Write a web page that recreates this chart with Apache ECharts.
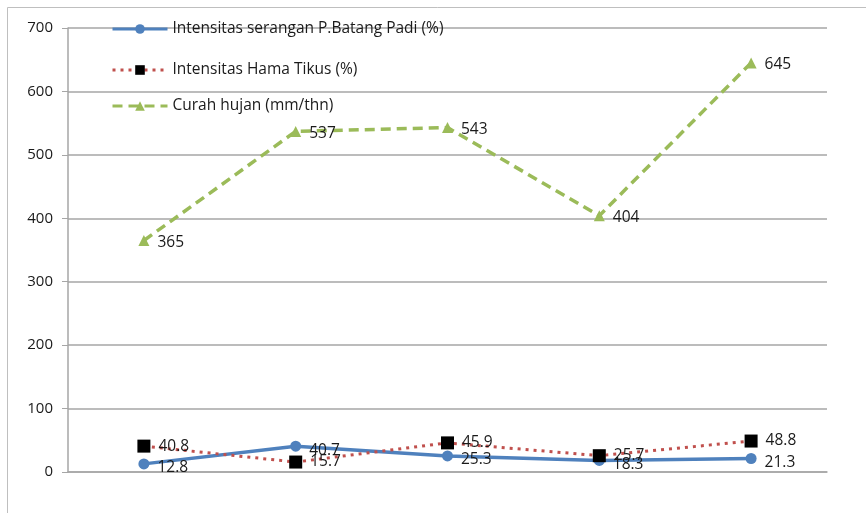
<!DOCTYPE html>
<html>
<head>
<meta charset="utf-8">
<script src="https://cdn.jsdelivr.net/npm/echarts@6/dist/echarts.min.js"></script>
<style>
  html, body { margin: 0; padding: 0; background: #fff; }
  #chart { width: 866px; height: 513px; }
</style>
</head>
<body>
<div id="chart"></div>
<script>
// kategori (tanpa label di sumbu x)
const categories = ['1', '2', '3', '4', '5']
const batangPadi = [12.8, 40.7, 25.3, 18.3, 21.3]
const hamaTikus = [40.8, 15.7, 45.9, 25.7, 48.8]
const curahHujan = [365, 537, 543, 404, 645]
const yTicks = [0, 100, 200, 300, 400, 500, 600, 700]

const names = [
  'Intensitas serangan P.Batang Padi (%)',
  'Intensitas Hama Tikus (%)',
  'Curah hujan (mm/thn)'
]

const myChart = echarts.init(document.getElementById('chart'))

const labelStyle = {
  show: true,
  position: 'right',
  distance: 8,
  color: '#1a1a1a',
  fontSize: 15.5,
  fontFamily: 'Open Sans'
}

const legendText = { color: '#1a1a1a', fontSize: 15.5, fontFamily: 'Open Sans' }

function legendAt(name, top) {
  return {
    data: [name],
    left: 106,
    top: top,
    itemWidth: 55,
    itemHeight: 12,
    lineStyle: { width: 3 },
    textStyle: legendText,
    selectedMode: false
  }
}

myChart.setOption({
  animation: false,
  graphic: [{
    type: 'rect',
    shape: { x: 7.5, y: 7.5, width: 900, height: 600 },
    style: { fill: 'none', stroke: '#bfbfbf', lineWidth: 1 },
    silent: true
  }],
  legend: [
    legendAt(names[0], 16),
    legendAt(names[1], 57),
    legendAt(names[2], 93)
  ],
  grid: { left: 68, right: 39, top: 28, bottom: 41 },
  xAxis: {
    type: 'category',
    data: categories,
    boundaryGap: true,
    axisLine: { lineStyle: { color: '#a6a6a6', width: 1.5 } },
    axisTick: { show: false },
    axisLabel: { show: false }
  },
  yAxis: {
    type: 'value',
    min: yTicks[0],
    max: yTicks[yTicks.length - 1],
    interval: 100,
    axisLine: { show: true, lineStyle: { color: '#a6a6a6', width: 1.5 } },
    axisTick: { show: true, length: 6, lineStyle: { color: '#a6a6a6' } },
    axisLabel: { color: '#1a1a1a', fontSize: 15, fontFamily: 'Open Sans', margin: 15 },
    splitLine: { lineStyle: { color: '#a6a6a6', width: 1.5 } }
  },
  series: [
    {
      name: names[0],
      type: 'line',
      data: batangPadi,
      symbol: 'circle',
      symbolSize: 11,
      itemStyle: { color: '#4f81bd' },
      lineStyle: { color: '#4f81bd', width: 3.5 },
      label: Object.assign({}, labelStyle, { offset: [0, 4] }),
      z: 3
    },
    {
      name: names[1],
      type: 'line',
      data: hamaTikus,
      symbol: 'rect',
      symbolSize: 13,
      itemStyle: { color: '#000' },
      lineStyle: { color: '#c0504d', width: 3, type: [3, 5] },
      label: labelStyle,
      z: 4
    },
    {
      name: names[2],
      type: 'line',
      data: curahHujan,
      symbol: 'triangle',
      symbolSize: 11,
      itemStyle: { color: '#9bbb59' },
      lineStyle: { color: '#9bbb59', width: 3.5, type: [10, 6] },
      label: Object.assign({}, labelStyle, { offset: [0, 2] }),
      z: 2
    }
  ]
})
</script>
</body>
</html>
